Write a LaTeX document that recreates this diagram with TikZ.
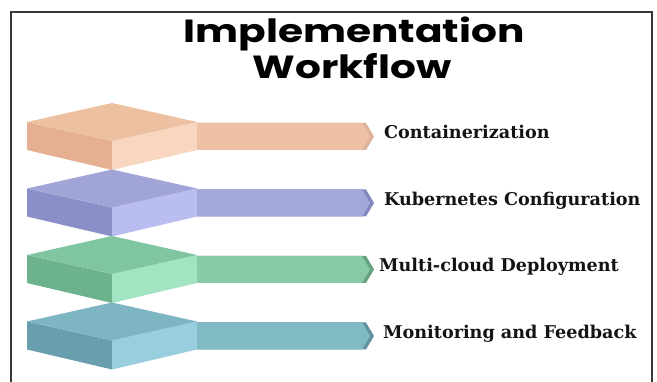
\documentclass[tikz,border=0pt]{standalone}
\usepackage{fontspec}
\setmainfont{DejaVu Serif}
\newfontfamily\titlefont{Poppins}
\begin{document}
\begin{tikzpicture}[x=1pt,y=-1pt,
  frameline/.style={draw=black!78,line width=2pt},
  steplabel/.style={anchor=base west,inner sep=0pt,font=\bfseries\fontsize{17.6}{19}\selectfont,text=black!92},
  titleline/.style={anchor=base,inner sep=0pt,xscale=1.27,font=\titlefont\bfseries\fontsize{32}{35}\selectfont}]
\definecolor{orTop}{RGB}{238,192,162}\definecolor{orLeft}{RGB}{229,176,146}
\definecolor{orRight}{RGB}{248,214,192}\definecolor{orBar}{RGB}{238,193,166}\definecolor{orTip}{RGB}{222,178,150}
\definecolor{puTop}{RGB}{160,164,214}\definecolor{puLeft}{RGB}{138,143,199}
\definecolor{puRight}{RGB}{186,189,240}\definecolor{puBar}{RGB}{164,167,218}\definecolor{puTip}{RGB}{132,136,192}
\definecolor{grTop}{RGB}{126,197,160}\definecolor{grLeft}{RGB}{108,178,140}
\definecolor{grRight}{RGB}{162,228,194}\definecolor{grBar}{RGB}{136,201,166}\definecolor{grTip}{RGB}{100,162,130}
\definecolor{tlTop}{RGB}{126,181,195}\definecolor{tlLeft}{RGB}{104,158,174}
\definecolor{tlRight}{RGB}{152,206,221}\definecolor{tlBar}{RGB}{128,186,197}\definecolor{tlTip}{RGB}{96,146,160}
\useasboundingbox (0,0) rectangle (657,382);
\fill[white] (0,0) rectangle (657,382);
% frame open at the bottom
\draw[frameline] (11,382) -- (11,12) -- (652,12) -- (652,382);
% title
\node[titleline] (t1) at (354,43) {Implementation};
\node[titleline] (t2) at (352,79) {Workflow};
% one step: 3-d block plus arrow bar
\foreach \dy/\c/\lx/\lbl/\n in {0/or/384/Containerization/s1,
  66.5/pu/384/Kubernetes Configuration/s2,
  133/gr/379/Multi-cloud Deployment/s3,
  199.5/tl/383/Monitoring and Feedback/s4}{
  \begin{scope}[yshift=-\dy pt]
    \fill[\c Left] (27,122) -- (112,141) -- (112,170) -- (27,150) -- cycle;
    \fill[\c Right] (112,141) -- (197,122) -- (197,150) -- (112,170) -- cycle;
    \fill[\c Top] (27,122) -- (112,103) -- (197,122) -- (112,141) -- cycle;
    \fill[\c Tip] (197,123) -- (366,123) -- (374,136.5) -- (366,150) -- (197,150) -- cycle;
    \fill[\c Bar] (197,123) -- (362,123) -- (370,136.5) -- (362,150) -- (197,150) -- cycle;
    \node[steplabel] (\n) at (\lx,139) {\lbl};
  \end{scope}
}
\end{tikzpicture}
\end{document}
